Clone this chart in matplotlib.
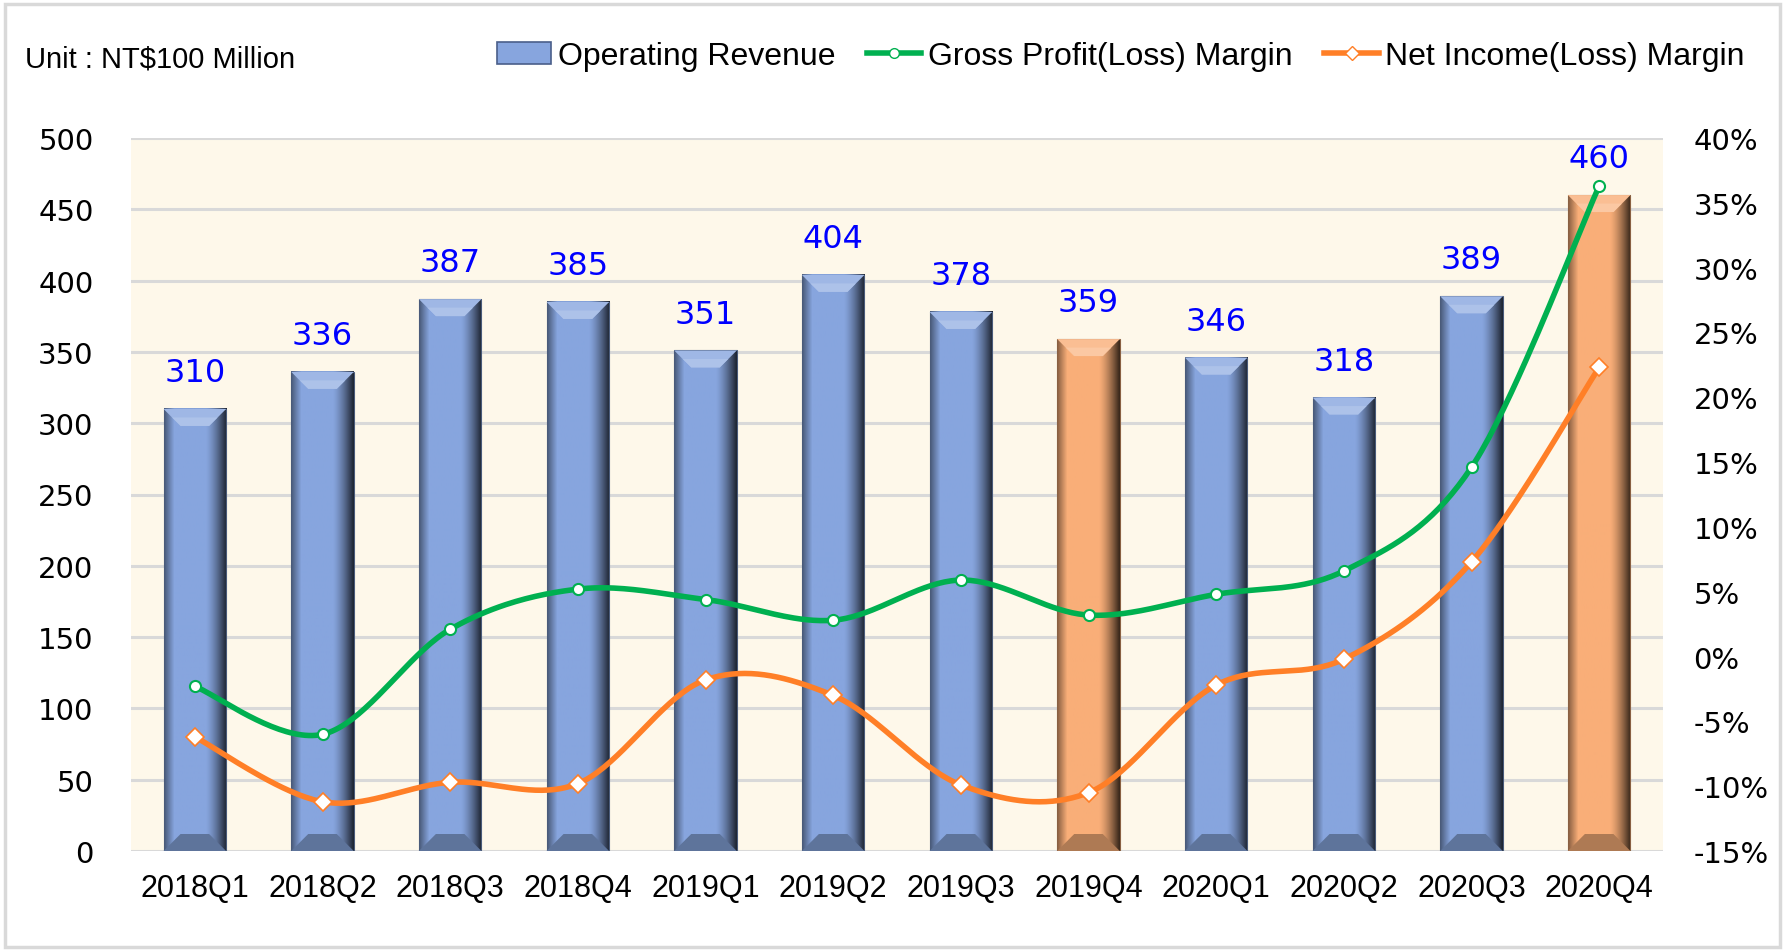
import numpy as np
import matplotlib
matplotlib.use('Agg')
import matplotlib.pyplot as plt
from matplotlib.patches import Polygon, Rectangle, Patch
from matplotlib.lines import Line2D
from matplotlib.colors import to_rgb

# ---------------- data ----------------
quarters = ['2018Q1', '2018Q2', '2018Q3', '2018Q4', '2019Q1', '2019Q2',
            '2019Q3', '2019Q4', '2020Q1', '2020Q2', '2020Q3', '2020Q4']
revenue = [310, 336, 387, 385, 351, 404, 378, 359, 346, 318, 389, 460]
gross_margin = [-2.3, -6.0, 2.1, 5.2, 4.4, 2.8, 5.9, 3.2, 4.8, 6.6, 14.6, 36.3]
net_margin = [-6.2, -11.2, -9.7, -9.8, -1.8, -3.0, -9.9, -10.5, -2.2, -0.2, 7.3, 22.3]
highlight = ['2019Q4', '2020Q4']
left_ticks = [0, 50, 100, 150, 200, 250, 300, 350, 400, 450, 500]
right_ticks = [-15, -10, -5, 0, 5, 10, 15, 20, 25, 30, 35, 40]

BLUE = '#87A5DE'
ORANGE = '#F9AE78'
GREEN = '#00B050'
LINE_ORANGE = '#FF7F27'
BG = '#FEF8EA'
GRID = '#D9D9D9'

W, H = 1785, 953
fig = plt.figure(figsize=(W / 100, H / 100), dpi=100)
fig.patch.set_facecolor('white')

L, R, T, B = 131, 1663, 139, 852
ax = fig.add_axes([L / W, 1 - B / H, (R - L) / W, (B - T) / H])
ax.set_facecolor(BG)
ax2 = ax.twinx()
ax.set_zorder(1)
ax2.set_zorder(2)
ax2.patch.set_visible(False)

n = len(quarters)
x = np.arange(n)
ax.set_xlim(-0.5, n - 0.5)
ax.set_ylim(0, 500)
ax2.set_ylim(-15, 40)

px_x = n / (R - L)            # data units per pixel (x)
px_y = 500 / (B - T)          # data units per pixel (y)

bar_w = 0.49
bev = 17


def shade(c, f):
    r, g, b = to_rgb(c)
    return (r * f, g * f, b * f)


def lighten(c, a):
    r, g, b = to_rgb(c)
    return (r + (1 - r) * a, g + (1 - g) * a, b + (1 - b) * a)


for i, (q, v) in enumerate(zip(quarters, revenue)):
    base = ORANGE if q in highlight else BLUE
    x0, x1 = i - bar_w / 2, i + bar_w / 2
    npx = 64
    prof = np.ones(npx)
    for k in range(npx):
        if k < 10:
            prof[k] = 0.55 + 0.45 * k / 10
        elif k > npx - 22:
            t = (k - (npx - 22)) / 21
            prof[k] = 1 - 0.78 * t ** 1.4
    rb = np.array(to_rgb(base))
    img = np.clip(rb[None, None, :] * prof[None, :, None], 0, 1)
    ax.imshow(img, extent=[x0, x1, 0, v], aspect='auto', zorder=2,
              interpolation='bilinear')
    ax.add_patch(Rectangle((x0, 0), bar_w, v, fill=False, edgecolor=shade(base, 0.55),
                           lw=0.8, zorder=3))
    bx, by = bev * px_x, bev * px_y
    # top bevel: two bands for a soft gradient
    ax.add_patch(Polygon([(x0, v), (x1, v), (x1 - bx, v - by), (x0 + bx, v - by)],
                         closed=True, facecolor=lighten(base, 0.2), edgecolor='none', zorder=3))
    ax.add_patch(Polygon([(x0 + bx * 0.5, v - by * 0.5), (x1 - bx * 0.5, v - by * 0.5),
                          (x1 - bx, v - by), (x0 + bx, v - by)],
                         closed=True, facecolor=lighten(base, 0.32), edgecolor='none', zorder=3))
    ax.add_patch(Polygon([(x0, 0), (x1, 0), (x1 - bx, by), (x0 + bx, by)],
                         closed=True, facecolor=shade(base, 0.7), edgecolor='none', zorder=3))
    ax.annotate(str(v), (i, v), xytext=(0, 15), textcoords='offset points',
                ha='center', va='bottom', color='#0000FF', fontsize=23,
                family='DejaVu Sans', zorder=5)


def smooth(xs, ys, per=40):
    xs = np.asarray(xs, float)
    ys = np.asarray(ys, float)
    P = np.column_stack([xs, ys])
    P = np.vstack([P[0], P, P[-1]])
    out = []
    for k in range(1, len(P) - 2):
        p0, p1, p2, p3 = P[k - 1], P[k], P[k + 1], P[k + 2]
        c1 = p1 + (p2 - p0) / 6
        c2 = p2 - (p3 - p1) / 6
        t = np.linspace(0, 1, per)[:, None]
        seg = ((1 - t) ** 3) * p1 + 3 * ((1 - t) ** 2) * t * c1 + 3 * (1 - t) * t ** 2 * c2 + t ** 3 * p2
        out.append(seg if k == 1 else seg[1:])
    out = np.vstack(out)
    return out[:, 0], out[:, 1]


gx, gy = smooth(x, gross_margin)
ax2.plot(gx, gy, color=GREEN, lw=4.0, solid_capstyle='round', zorder=3)
ax2.plot(x, gross_margin, ls='none', marker='o', ms=8, mfc='white', mec=GREEN,
         mew=1.5, zorder=4)
nx, ny = smooth(x, net_margin)
ax2.plot(nx, ny, color=LINE_ORANGE, lw=4.0, solid_capstyle='round', zorder=3)
ax2.plot(x, net_margin, ls='none', marker='D', ms=9, mfc='white', mec=LINE_ORANGE,
         mew=1.2, zorder=4)

# axes styling
ax.set_yticks(left_ticks)
ax.grid(axis='y', color=GRID, lw=2.2, zorder=0)
ax.set_axisbelow(True)
ax.set_xticks(x)
ax.set_xticklabels(quarters, family='Liberation Sans', fontsize=22)
ax.set_yticklabels([str(t) for t in left_ticks], family='DejaVu Sans', fontsize=21)
ax.tick_params(axis='both', length=0)
ax.tick_params(axis='y', pad=27)
ax.tick_params(axis='x', pad=16)
ax2.set_yticks(right_ticks)
ax2.set_yticklabels([f'{t}%' for t in right_ticks], family='DejaVu Sans', fontsize=21)
ax2.tick_params(axis='y', length=0, pad=22)
for a in (ax, ax2):
    for s in a.spines.values():
        s.set_visible(False)

# legend
handles = [
    Patch(facecolor=BLUE, edgecolor='#4A5F8A', lw=1.2),
    Line2D([], [], color=GREEN, lw=4.0, marker='o', ms=7, mfc='white', mec=GREEN),
    Line2D([], [], color=LINE_ORANGE, lw=4.0, marker='D', ms=7, mfc='white', mec=LINE_ORANGE),
]
labels = ['Operating Revenue', 'Gross Profit(Loss) Margin', 'Net Income(Loss) Margin']
fig.legend(handles, labels, loc='center left', bbox_to_anchor=(497 / W, 1 - 57 / H),
           ncol=3, frameon=False, prop={'family': 'Liberation Sans', 'size': 23},
           handlelength=1.7, handleheight=0.7, handletextpad=0.2, columnspacing=1.0,
           borderpad=0, borderaxespad=0)

fig.text(25 / W, 1 - 59 / H, 'Unit : NT$100 Million', family='Liberation Sans',
         fontsize=21, ha='left', va='center')

# outer frame
fig.add_artist(Rectangle((5 / W, 5 / H), 1 - 10 / W, 1 - 10 / H, transform=fig.transFigure,
                         fill=False, edgecolor=GRID, lw=2.5))

fig.savefig('out.png', dpi=100, facecolor='white')
